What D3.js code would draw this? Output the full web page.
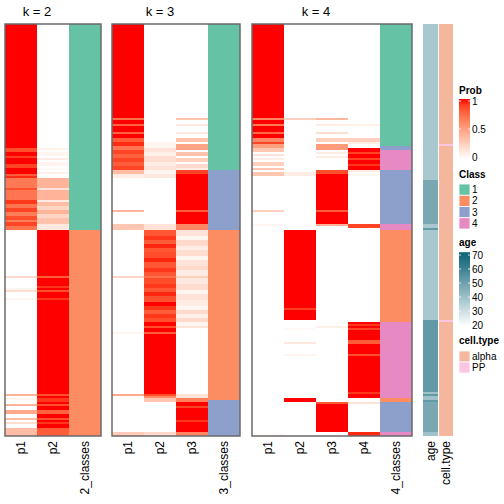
<!DOCTYPE html>
<html><head><meta charset="utf-8">
<script src="https://cdn.jsdelivr.net/npm/d3@7"></script>
<style>body{margin:0;background:#fff}svg{display:block}text{font-family:"Liberation Sans",Arial,sans-serif}</style>
</head><body><svg id="c" width="504" height="504"></svg>
<script>
// ---------- DATA (segments: [fromSample, toSample, value]) ----------
const nSamples = 206;
const k2_p1 = [[0,62,1],[62,64,0.85],[64,66,1],[66,67,0.9],[67,70,1],[70,72,0.88],[72,75,1],[75,76,0.8],[76,77,0.95],[77,82,0.68],[82,83,0.85],[83,88,0.7],[88,90,0.92],[90,92,0.7],[92,94,0.88],[94,96,0.66],[96,98,0.85],[98,99,0.66],[99,101,0.88],[101,103,0.7],[126,127,0.2],[132,133,0.06],[133,134,0.18],[137,138,0.05],[185,186,0.4],[187,188,0.06],[190,191,0.4],[193,195,0.45],[197,198,0.35],[199,200,0.18],[202,206,0.35]];
const k2_p2 = [[62,63,0.08],[64,66,0.05],[67,68,0.1],[69,71,0.06],[72,73,0.04],[74,75,0.08],[77,82,0.4],[82,83,0.15],[83,88,0.4],[88,89,0.1],[89,91,0.35],[91,93,0.22],[93,95,0.4],[95,97,0.22],[97,100,0.32],[100,103,0.12],[103,206,1],[126,127,0.8],[131,132,0.92],[133,134,0.85],[137,138,0.92],[185,186,0.85],[187,189,0.92],[190,191,0.85],[193,195,0.78],[197,198,0.85],[199,200,0.92],[202,206,0.8]];
const k2_cls = [[0,103,1],[103,206,2]];

const k3_p1 = [[0,47,1],[47,48,0.72],[48,50,1],[50,51,0.78],[51,54,1],[54,55,0.78],[55,57,1],[57,59,0.8],[59,61,0.95],[61,63,0.7],[63,65,0.88],[65,67,0.78],[67,69,0.88],[69,71,0.8],[71,73,0.88],[73,75,0.35],[75,77,0.1],[93,94,0.4],[100,103,0.3],[126,127,0.22],[154,155,0.05],[185,186,0.45],[204,206,0.28]];
const k3_p2 = [[59,62,0.05],[62,64,0.15],[64,66,0.08],[66,69,0.18],[69,71,0.1],[71,73,0.15],[73,75,0.05],[75,77,0.12],[100,103,0.15],[103,106,0.82],[106,108,0.92],[108,110,0.8],[110,112,0.96],[112,114,0.82],[114,117,0.86],[117,119,0.96],[119,122,0.82],[122,124,0.92],[124,126,0.82],[126,127,0.72],[127,130,0.86],[130,132,0.92],[132,134,0.82],[134,136,0.96],[136,139,0.84],[139,141,1],[141,143,0.92],[143,145,0.8],[145,147,0.92],[147,149,0.85],[149,151,1],[151,152,0.85],[152,154,1],[154,155,0.8],[155,185,1],[185,186,0.85],[186,187,0.6],[187,189,0.3],[204,206,0.2]];
const k3_p3 = [[47,48,0.32],[50,51,0.12],[54,55,0.12],[57,59,0.32],[60,63,0.48],[64,66,0.32],[67,69,0.25],[70,72,0.2],[72,73,0.1],[73,75,0.88],[75,100,1],[93,94,0.8],[100,103,0.62],[103,106,0.15],[106,108,0.05],[108,111,0.2],[111,113,0.1],[113,116,0.18],[116,118,0.05],[118,121,0.15],[121,123,0.2],[123,126,0.1],[126,127,0.25],[127,130,0.12],[130,133,0.18],[133,135,0.05],[135,138,0.15],[138,141,0.1],[141,143,0.05],[143,145,0.2],[145,147,0.08],[147,149,0.2],[149,151,0.05],[151,152,0.15],[185,187,0.15],[187,189,0.65],[189,204,1],[191,192,0.88],[198,199,0.92],[204,206,0.62]];
const k3_cls = [[0,73,1],[73,103,3],[103,188,2],[188,206,3]];

const k4_p1 = [[0,47,1],[47,48,0.62],[48,50,1],[50,51,0.68],[51,54,1],[54,55,0.75],[55,57,1],[57,59,0.62],[59,60,0.88],[60,62,0.5],[62,64,0.3],[65,66,0.15],[67,68,0.1],[69,71,0.25],[72,73,0.3],[74,76,0.3],[93,94,0.25],[100,101,0.05],[205,206,0.05]];
const k4_p2 = [[47,48,0.25],[74,76,0.1],[103,148,1],[142,143,0.9],[152,153,0.03],[159,160,0.12],[165,166,0.06],[187,189,1]];
const k4_p3 = [[47,48,0.38],[50,51,0.1],[54,55,0.18],[57,59,0.25],[60,63,0.52],[64,65,0.1],[66,67,0.1],[73,75,0.85],[75,100,1],[93,94,0.8],[100,101,0.4],[151,152,0.08],[189,190,0.82],[190,204,1]];
const k4_p4 = [[50,51,0.08],[57,59,0.25],[59,60,0.1],[62,73,1],[64,65,0.88],[67,68,0.88],[70,71,0.92],[73,74,0.1],[75,76,0.05],[100,102,0.88],[149,187,1],[150,151,0.92],[152,153,0.88],[158,160,0.8],[165,166,0.85],[184,185,0.92],[189,190,0.15],[204,206,0.95]];
const k4_cls = [[0,61,1],[61,63,3],[63,73,4],[73,100,3],[100,103,4],[103,149,2],[149,187,4],[187,189,2],[189,204,3],[204,206,4]];

const ageSeg = [[0,78,38],[78,100,48],[100,102,38],[102,103,52],[103,148,38],[148,184,53],[184,185,40],[185,186,53],[186,188,40],[188,189,53],[189,204,48],[204,206,40]];
const cellTypeSeg = [[0,206,"alpha"],[60,61,"PP"],[148,149,"PP"]];

const panelTitles = ["k = 2","k = 3","k = 4"];
const k2_cols = ["p1","p2","2_classes"];
const k3_cols = ["p1","p2","p3","3_classes"];
const k4_cols = ["p1","p2","p3","p4","4_classes"];
const classes = [1,2,3,4];
const classColors = ["#66C2A5","#FC8D62","#8DA0CB","#E78AC3"];
const cellTypes = ["alpha","PP"];
const cellTypeColors = ["#F4B79E","#FCC5E1"];
const probTicks = [0,0.5,1];
const probTickLabels = ["0","0.5","1"];
const ageTicks = [20,30,40,50,60,70];

// ---------- SCALES ----------
const svg = d3.select("#c");
const y = d3.scaleLinear().domain([0,nSamples]).range([24,436]);
const prob = d3.scaleLinear().domain([0,1]).range(["#FFFFFF","#FF0000"]).interpolate(d3.interpolateLab);
const clsColor = d3.scaleOrdinal().domain(classes).range(classColors);
const ageColor = d3.scaleLinear().domain([20,70]).range(["#FFFFFF","rgb(16,100,120)"]).clamp(true);
const ctColor = d3.scaleOrdinal().domain(cellTypes).range(cellTypeColors);

const panels = [
  {title:panelTitles[0], cols:k2_cols, data:[k2_p1,k2_p2,k2_cls], x0:5},
  {title:panelTitles[1], cols:k3_cols, data:[k3_p1,k3_p2,k3_p3,k3_cls], x0:112},
  {title:panelTitles[2], cols:k4_cols, data:[k4_p1,k4_p2,k4_p3,k4_p4,k4_cls], x0:252}
];
const colW = 32;

panels.forEach(p => {
  const x = d3.scaleBand().domain(p.cols).range([p.x0, p.x0 + colW*p.cols.length]);
  const g = svg.append("g").attr("shape-rendering","crispEdges");
  p.cols.forEach((c,i) => {
    const isCls = i === p.cols.length-1;
    g.append("rect").attr("x",x(c)).attr("y",y(0)).attr("width",x.bandwidth()).attr("height",y(nSamples)-y(0)).attr("fill","#fff");
    g.selectAll(null).data(p.data[i]).join("rect")
      .attr("x",x(c)).attr("width",x.bandwidth())
      .attr("y",d=>y(d[0])).attr("height",d=>y(d[1])-y(d[0]))
      .attr("fill",d=> isCls ? clsColor(d[2]) : prob(d[2]));
    svg.append("text").attr("transform",`translate(${x(c)+x.bandwidth()/2},441) rotate(-90)`)
      .attr("text-anchor","end").attr("dominant-baseline","central").attr("font-size",12).text(c);
  });
  svg.append("rect").attr("x",p.x0).attr("y",y(0)).attr("width",colW*p.cols.length).attr("height",y(nSamples)-y(0))
    .attr("fill","none").attr("stroke","#6a6a6a").attr("stroke-width",1.5);
  const nProb = p.cols.length-1;
  svg.append("text").attr("x",p.x0 + colW*nProb/2).attr("y",16).attr("text-anchor","middle").attr("font-size",13).text(p.title);
});

// ---------- ANNOTATIONS ----------
const annX = d3.scaleOrdinal().domain(["age","cell.type"]).range([423,439]);
const annW = {"age":15,"cell.type":14};
const ga = svg.append("g").attr("shape-rendering","crispEdges");
ga.selectAll(null).data(ageSeg).join("rect").attr("x",annX("age")).attr("width",annW["age"])
  .attr("y",d=>y(d[0])).attr("height",d=>y(d[1])-y(d[0])).attr("fill",d=>ageColor(d[2]));
ga.selectAll(null).data(cellTypeSeg).join("rect").attr("x",annX("cell.type")).attr("width",annW["cell.type"])
  .attr("y",d=>y(d[0])).attr("height",d=>y(d[1])-y(d[0])).attr("fill",d=>ctColor(d[2]));
["age","cell.type"].forEach(a => {
  svg.append("text").attr("transform",`translate(${annX(a)+annW[a]/2},441) rotate(-90)`)
    .attr("text-anchor","end").attr("dominant-baseline","central").attr("font-size",12).text(a);
});

// ---------- LEGENDS ----------
const lx = 459, lw = 11, labX = 472;
const defs = svg.append("defs");
function grad(id, colorFn, d0, d1) {
  const gr = defs.append("linearGradient").attr("id",id).attr("x1",0).attr("x2",0).attr("y1",0).attr("y2",1);
  d3.range(0,1.0001,0.1).forEach(t => gr.append("stop").attr("offset",t).attr("stop-color",colorFn(d1 + (d0-d1)*t)));
}
// Prob
svg.append("text").attr("x",lx).attr("y",94).attr("font-size",10).attr("font-weight","bold").text("Prob");
const py = d3.scaleLinear().domain([0,1]).range([157,101]);
grad("gp", prob, 0, 1);
svg.append("rect").attr("x",lx).attr("y",py(1)-2).attr("width",lw).attr("height",py(0)-py(1)+4).attr("fill","url(#gp)");
probTicks.forEach((t,i) => {
  svg.append("line").attr("x1",lx).attr("x2",lx+2).attr("y1",py(t)).attr("y2",py(t)).attr("stroke","#fff").attr("stroke-width",0.8);
  svg.append("line").attr("x1",lx+lw-2).attr("x2",lx+lw).attr("y1",py(t)).attr("y2",py(t)).attr("stroke","#fff").attr("stroke-width",0.8);
  svg.append("text").attr("x",labX).attr("y",py(t)).attr("dominant-baseline","central").attr("font-size",10).text(probTickLabels[i]);
});
// Class
svg.append("text").attr("x",lx).attr("y",178).attr("font-size",10).attr("font-weight","bold").text("Class");
const cy = d3.scaleBand().domain(classes).range([184,229]);
classes.forEach(c => {
  svg.append("rect").attr("x",lx).attr("y",cy(c)).attr("width",lw).attr("height",cy.bandwidth()).attr("fill",clsColor(c)).attr("stroke","#fff").attr("stroke-width",0.8);
  svg.append("text").attr("x",labX).attr("y",cy(c)+cy.bandwidth()/2).attr("dominant-baseline","central").attr("font-size",10).text(c);
});
// age
svg.append("text").attr("x",lx).attr("y",246).attr("font-size",10).attr("font-weight","bold").text("age");
const ay = d3.scaleLinear().domain([20,70]).range([325,255]);
grad("ga", ageColor, 20, 72);
svg.append("rect").attr("x",lx).attr("y",ay(72)).attr("width",lw).attr("height",ay(20)-ay(72)+1).attr("fill","url(#ga)");
ageTicks.forEach(t => {
  svg.append("line").attr("x1",lx).attr("x2",lx+2).attr("y1",ay(t)).attr("y2",ay(t)).attr("stroke","#fff").attr("stroke-width",0.8);
  svg.append("line").attr("x1",lx+lw-2).attr("x2",lx+lw).attr("y1",ay(t)).attr("y2",ay(t)).attr("stroke","#fff").attr("stroke-width",0.8);
  svg.append("text").attr("x",labX).attr("y",ay(t)).attr("dominant-baseline","central").attr("font-size",10).text(t);
});
// cell.type
svg.append("text").attr("x",lx).attr("y",344).attr("font-size",10).attr("font-weight","bold").text("cell.type");
const ty = d3.scaleBand().domain(cellTypes).range([351,373]);
cellTypes.forEach(c => {
  svg.append("rect").attr("x",lx).attr("y",ty(c)).attr("width",lw).attr("height",ty.bandwidth()).attr("fill",ctColor(c)).attr("stroke","#fff").attr("stroke-width",0.8);
  svg.append("text").attr("x",labX).attr("y",ty(c)+ty.bandwidth()/2).attr("dominant-baseline","central").attr("font-size",10).text(c);
});
</script></body></html>
